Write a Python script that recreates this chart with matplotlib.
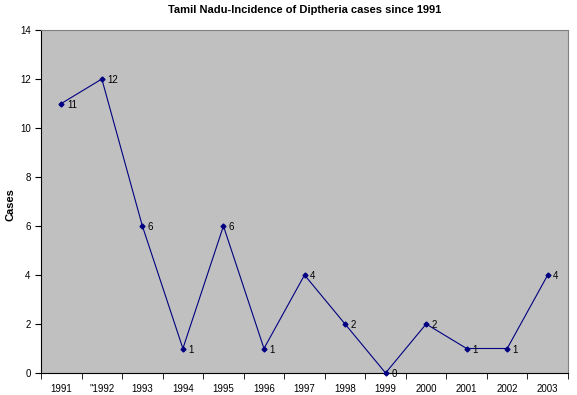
import matplotlib
matplotlib.use('Agg')
import matplotlib.pyplot as plt

years = ['1991', '"1992', '1993', '1994', '1995', '1996', '1997',
         '1998', '1999', '2000', '2001', '2002', '2003']
cases = [11, 12, 6, 1, 6, 1, 4, 2, 0, 2, 1, 1, 4]

plt.rcParams['font.family'] = ['Liberation Sans', 'DejaVu Sans']

fig = plt.figure(figsize=(5.77, 3.95), dpi=100)
ax = fig.add_axes([0.0711, 0.0557, 0.9133, 0.8683])
ax.set_facecolor('#C0C0C0')

x = list(range(len(years)))
ax.plot(x, cases, color='#000080', linewidth=0.8, marker='D', markersize=2.5,
        clip_on=False, zorder=3)
for xi, v in zip(x, cases):
    ax.annotate(str(v), (xi, v), xytext=(4, -3), textcoords='offset points',
                fontsize=7, color='black')

ax.set_xlim(-0.5, len(years) - 0.5)
ax.set_ylim(0, 14)
ax.set_yticks(range(0, 15, 2))
ax.set_xticks(x)
ax.set_xticklabels(years)
ax.set_xticks([i + 0.5 for i in range(-1, len(years))], minor=True)
ax.tick_params(axis='x', which='major', length=0, labelsize=7, pad=8)
ax.tick_params(axis='x', which='minor', length=4, direction='out', color='black')
ax.tick_params(axis='y', labelsize=7, length=4, direction='out')

for s in ['top', 'right']:
    ax.spines[s].set_color('#808080')
for s in ['left', 'bottom']:
    ax.spines[s].set_color('black')

ax.set_ylabel('Cases', fontsize=8, fontweight='bold')
ax.yaxis.set_label_coords(-0.048, 0.49)
ax.set_title('Tamil Nadu-Incidence of Diptheria cases since 1991',
             fontsize=8, fontweight='bold', pad=12)

fig.savefig('out.png', dpi=100)
